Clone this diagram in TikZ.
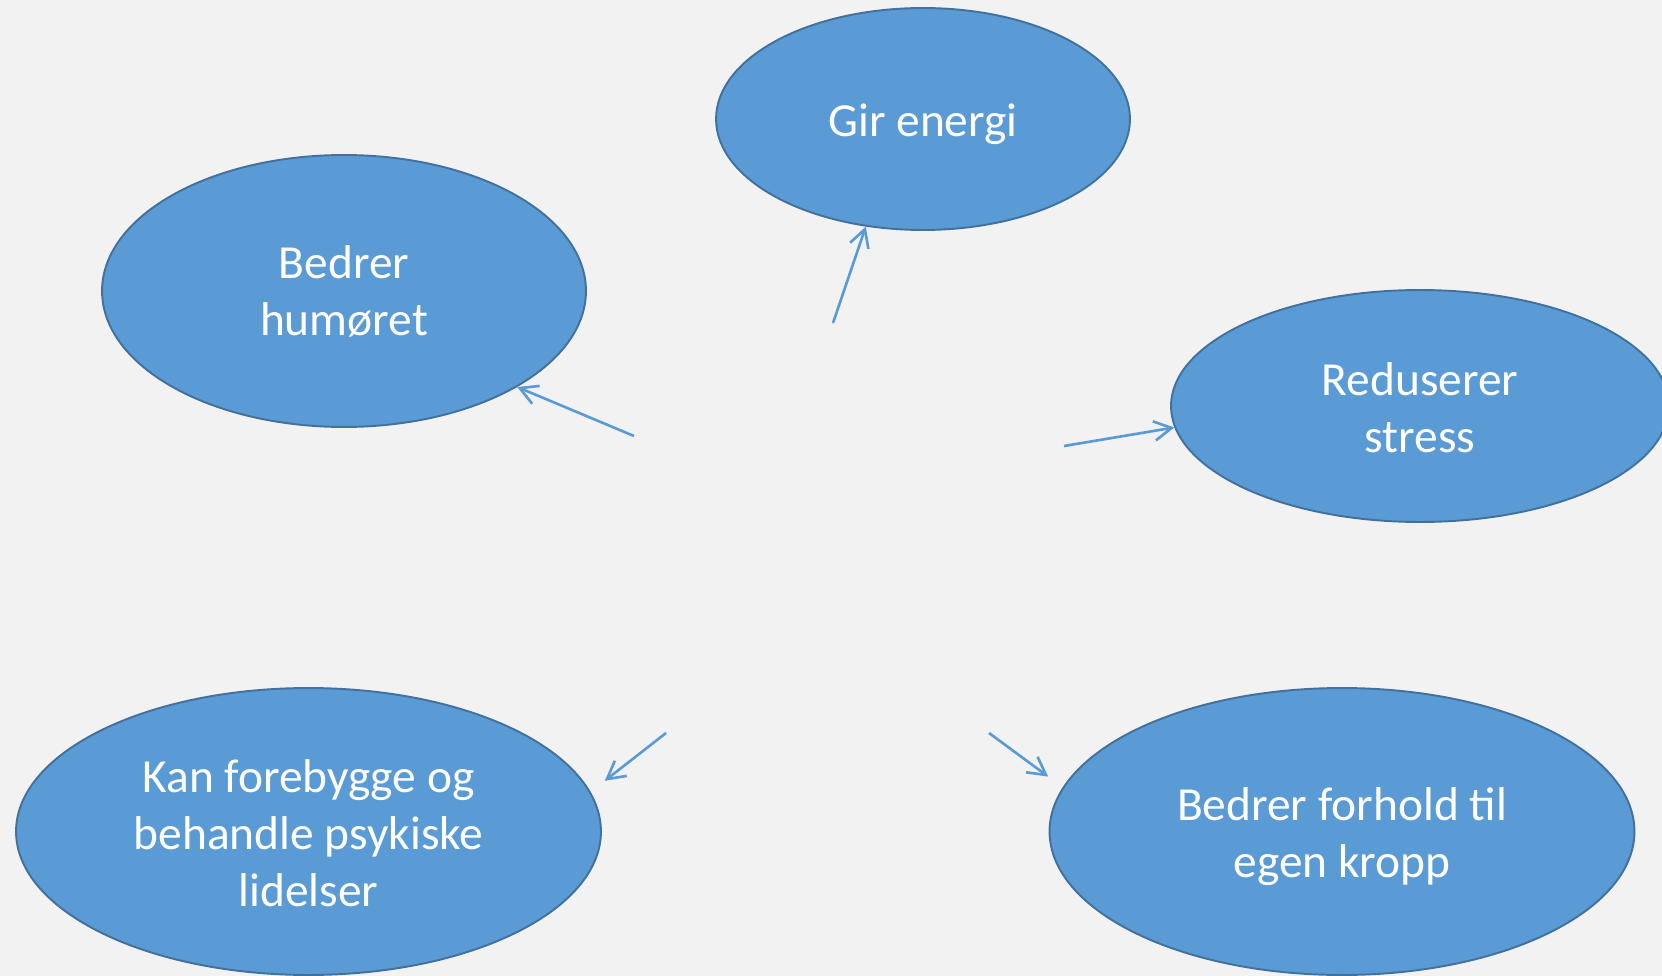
\documentclass[tikz,border=0pt]{standalone}
\usepackage{fontspec}
\setmainfont{Carlito}
\usetikzlibrary{shapes.geometric,arrows.meta}
\definecolor{bubblefill}{HTML}{5B9BD5}
\definecolor{bubbleline}{HTML}{41719C}
\definecolor{bggray}{HTML}{F2F2F2}
\begin{document}
\begin{tikzpicture}[x=0.02cm, y=-0.02cm,
  effect/.style={ellipse, draw=bubbleline, line width=1.1pt, fill=bubblefill,
    text=white, align=center, inner sep=0pt, font=\fontsize{27}{32.5}\selectfont,
    execute at begin node={\rule{0pt}{24pt}}},
  link/.style={-{Straight Barb[length=10pt,width=11pt]}, bubblefill, line width=1.5pt}]
  % background
  \fill[bggray] (0,0) rectangle (1662,976);
  \useasboundingbox (0,0) rectangle (1662,976);

  % the effects
  \node[effect, minimum width=8.28cm, minimum height=4.44cm] (gir) at (923,119) {Gir energi};
  \node[effect, minimum width=9.68cm, minimum height=5.44cm] (humor) at (344,291) {Bedrer\\humøret};
  \node[effect, minimum width=9.96cm, minimum height=4.64cm] (stress) at (1420,406) {\rule{0pt}{21pt}Reduserer\\stress};
  \node[effect, minimum width=11.7cm, minimum height=5.74cm] (psyk) at (308.5,831.5) {\rule{0pt}{21pt}Kan forebygge og\\behandle psykiske\\lidelser};
  \node[effect, minimum width=11.7cm, minimum height=5.74cm] (kropp) at (1342,831.5) {\rule{0pt}{24.5pt}Bedrer forhold til\\egen kropp};

  % free ends of the arrows
  \coordinate (girfrom) at (833,323);
  \coordinate (humorfrom) at (634,436);
  \coordinate (stressfrom) at (1064,446);
  \coordinate (psykfrom) at (666,733);
  \coordinate (kroppfrom) at (989,733);

  % arrows
  \draw[link] (girfrom) -- (gir.242);
  \draw[link] (humorfrom) -- (humor.331);
  \draw[link] (stressfrom) -- (stress.185);
  \draw[link, shorten >=0.36cm] (psykfrom) -- (psyk.8.8);
  \draw[link, shorten >=0.36cm] (kroppfrom) -- (kropp.171.3);
\end{tikzpicture}
\end{document}
